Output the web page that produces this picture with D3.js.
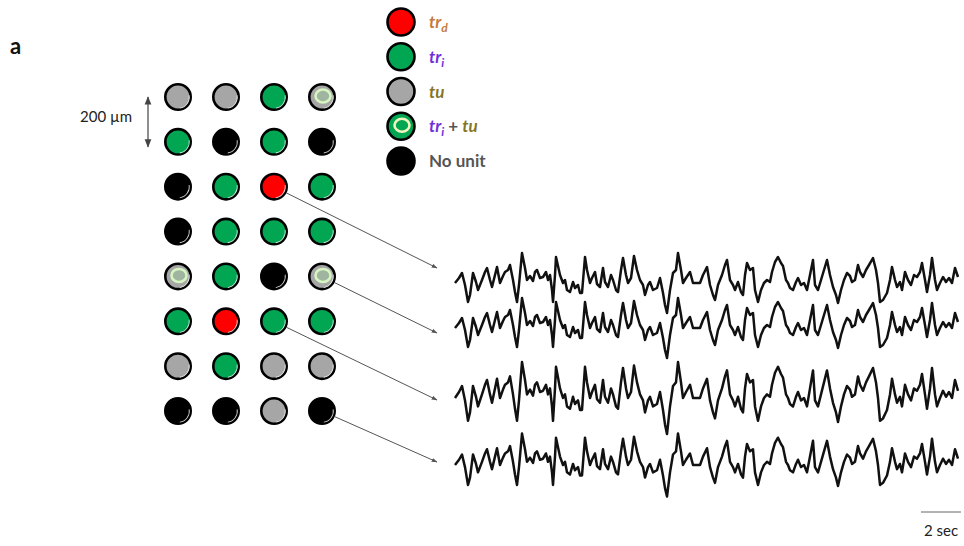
<!DOCTYPE html>
<html><head><meta charset="utf-8">
<script src="https://cdn.jsdelivr.net/npm/d3@7"></script>
<style>
html,body{margin:0;padding:0;background:#fff;}
svg{display:block;font-family:Lato,"Open Sans",sans-serif;}
</style></head>
<body><svg id="chart" width="964" height="546"></svg>
<script>
// ---- data ----
const unitTypes = ["trd", "tri", "tu", "tritu", "none"];
const legendLabels = ["tr_d", "tr_i", "tu", "tr_i + tu", "No unit"];
// electrode array, 8 rows x 4 columns
const electrodeGrid = [
  ["tu",    "tu",   "tri",  "tritu"],
  ["tri",   "none", "tri",  "none"],
  ["none",  "tri",  "trd",  "tri"],
  ["none",  "tri",  "tri",  "tri"],
  ["tritu", "tri",  "none", "tritu"],
  ["tri",   "trd",  "tri",  "tri"],
  ["tu",    "tri",  "tu",   "tu"],
  ["none",  "none", "tu",   "none"]
];
// electrodes whose traces are shown [row, col]
const tracedElectrodes = [[2, 2], [4, 3], [5, 2], [7, 3]];
const traceGain = [1, 1, 1.2, 1.05];
// LFP trace (time in s, amplitude in µV)
const timeS = [0.10,0.30,0.45,0.60,0.75,0.85,1.00,1.15,1.25,1.45,1.60,1.70,1.85,1.95,2.10,2.20,2.35,2.50,2.60,2.75,2.85,3.00,3.10,3.20,3.30,3.45,3.60,3.70,3.85,4.00,4.10,4.20,4.35,4.50,4.65,4.75,4.85,4.95,5.00,5.10,5.15,5.25,5.35,5.50,5.60,5.70,5.85,6.00,6.10,6.25,6.35,6.45,6.60,6.70,6.85,6.95,7.10,7.20,7.35,7.50,7.60,7.75,7.90,8.00,8.15,8.25,8.40,8.50,8.65,8.75,8.90,9.05,9.20,9.35,9.50,9.60,9.75,9.85,10.00,10.20,10.35,10.50,10.60,10.70,10.85,11.00,11.15,11.25,11.40,11.50,11.65,11.85,12.00,12.20,12.35,12.50,12.70,12.85,13.00,13.10,13.25,13.45,13.60,13.70,13.85,14.00,14.10,14.25,14.40,14.50,14.60,14.70,14.85,15.00,15.10,15.25,15.40,15.55,15.70,15.85,15.95,16.10,16.25,16.40,16.50,16.65,16.75,16.85,17.00,17.15,17.25,17.40,17.55,17.70,17.85,18.00,18.10,18.25,18.40,18.55,18.70,18.85,19.00,19.15,19.25,19.40,19.55,19.70,19.85,19.95,20.10,20.25,20.35,20.50,20.65,20.80,21.00,21.15,21.25,21.35,21.50,21.70,21.85,21.95,22.10,22.20,22.35,22.45,22.60,22.75,22.90,23.05,23.20,23.35,23.45,23.60,23.70,23.85,23.95,24.10,24.20,24.35,24.50,24.65,24.80,24.95,25.10,25.25];
const lfpUV = [0,50,100,-20,-190,-120,100,10,-70,30,110,150,30,-40,80,160,0,70,110,130,180,30,-90,-190,-20,300,150,30,70,20,110,130,50,60,110,30,80,-70,-190,80,260,170,80,0,30,-70,-90,10,-50,-20,-100,-100,260,130,0,50,110,-10,-40,150,10,-40,80,30,-70,-90,130,250,80,0,50,270,130,30,-20,-120,-20,10,-70,-50,50,-100,-220,-300,-70,100,130,300,130,0,50,110,0,0,0,80,160,-20,-120,-170,-20,80,180,230,30,-20,-70,10,-90,-120,80,200,130,150,-70,-190,-70,0,30,10,110,210,260,200,170,30,0,-50,-70,10,50,-20,0,-70,80,230,-20,-70,30,130,230,80,-40,-120,-200,-70,30,100,70,10,30,180,110,60,130,180,250,130,0,-190,-170,-100,30,160,30,-40,10,-70,110,30,-20,80,60,110,200,30,-90,80,250,30,-70,0,60,10,50,0,150,60];
const scaleBarSec = 2;

// ---- styles ----
const fillColor = {trd:"#ff0000", tri:"#00a651", tu:"#a6a6a6", tritu:"#00a651", none:"#000000"};
const svg = d3.select("#chart");

// panel label
svg.append("text").attr("x", 10).attr("y", 54).attr("font-size", 22).attr("font-weight", 700)
  .attr("fill", "#111").text("a");

// grid scales
const colX = d3.scalePoint().domain(d3.range(4)).range([178, 322]);
const rowY = d3.scalePoint().domain(d3.range(8)).range([97, 411]);

function drawUnit(g, type, cx, cy, legend) {
  const R = legend ? 13.5 : 12.7;
  const base = type === "tritu" && !legend ? "#a6a6a6" : fillColor[type];
  g.append("circle").attr("cx", cx).attr("cy", cy).attr("r", R)
    .attr("fill", base).attr("stroke", "#000").attr("stroke-width", 2.6);
  if (type === "tritu") {
    g.append("ellipse").attr("cx", cx + 1).attr("cy", cy - 1).attr("rx", 7.5).attr("ry", 6.5)
      .attr("fill", legend ? "#00a651" : "#9fb59f").attr("stroke", legend ? "#f0f5c0" : "#d6f5c0").attr("stroke-width", 2.6);
  }
  if (!legend) {
    const arc = d3.arc().innerRadius(R - 1.8).outerRadius(R - 1.0).startAngle(Math.PI * 0.45).endAngle(Math.PI * 0.95);
    g.append("path").attr("d", arc()).attr("transform", `translate(${cx},${cy})`)
      .attr("fill", "#fff").attr("opacity", 0.85);
  }
}
const R = 12.7;

const gridG = svg.append("g");
electrodeGrid.forEach((row, r) => row.forEach((t, c) => drawUnit(gridG, t, colX(c), rowY(r), false)));

// 200 µm marker
svg.append("defs").html(`
<marker id="ah" viewBox="0 0 10 10" refX="9" refY="5" markerWidth="7" markerHeight="7" orient="auto-start-reverse">
<path d="M0,1 L10,5 L0,9 z" fill="#444"/></marker>
<marker id="ah2" viewBox="0 0 10 10" refX="9" refY="5" markerWidth="6" markerHeight="6" orient="auto">
<path d="M0,1.5 L10,5 L0,8.5 z" fill="#555"/></marker>`);
svg.append("line").attr("x1", 148).attr("x2", 148).attr("y1", rowY(0)).attr("y2", rowY(1) + 5)
  .attr("stroke", "#444").attr("stroke-width", 1.2)
  .attr("marker-start", "url(#ah)").attr("marker-end", "url(#ah)");
svg.append("text").attr("x", 80).attr("y", 122).attr("font-size", 15).attr("fill", "#222").text("200 µm");

// legend
const legY = d3.scalePoint().domain(unitTypes).range([22, 161]);
const legG = svg.append("g");
unitTypes.forEach(t => drawUnit(legG, t, 401, legY(t), true));
const cTrd = "#c47a3a", cTri = "#7030d8", cTu = "#857526", cGray = "#555";
function legText(t) {
  return legG.append("text").attr("x", 429).attr("y", legY(t) + 6).attr("font-size", 17)
    .attr("font-weight", 700).attr("font-style", "italic");
}
let tx = legText("trd"); tx.attr("fill", cTrd).text("tr");
tx.append("tspan").attr("font-size", 12).attr("dy", 4).text("d");
tx = legText("tri"); tx.attr("fill", cTri).text("tr");
tx.append("tspan").attr("font-size", 12).attr("dy", 4).text("i");
tx = legText("tu"); tx.attr("fill", cTu).text("tu");
tx = legText("tritu"); tx.attr("fill", cTri).text("tr");
tx.append("tspan").attr("font-size", 12).attr("dy", 4).text("i");
tx.append("tspan").attr("font-style", "normal").attr("fill", cGray).attr("dy", -4).text(" + ");
tx.append("tspan").attr("fill", cTu).text("tu");
tx = legText("none"); tx.attr("fill", cGray).attr("font-style", "normal").text("No unit");

// traces
const tx0 = 453;
const xT = d3.scaleLinear().domain([0, 25.3]).range([tx0, tx0 + 25.3 * 20]);
const baselines = [283, 328, 398, 465];
const linkEndY = [268, 333, 400, 462];
baselines.forEach((b, i) => {
  const yS = d3.scaleLinear().domain([-1000, 1000]).range([b + 100 * traceGain[i], b - 100 * traceGain[i]]);
  const line = d3.line().x((d, k) => xT(timeS[k])).y(d => yS(d)).curve(d3.curveLinear);
  svg.append("path").attr("d", line(lfpUV)).attr("fill", "none")
    .attr("stroke", "#111").attr("stroke-width", 2.5).attr("stroke-linejoin", "round");
  const [r, c] = tracedElectrodes[i];
  const cx = colX(c), cy = rowY(r), ex = 437, ey = linkEndY[i];
  const dx = ex - cx, dy = ey - cy, L = Math.hypot(dx, dy);
  svg.append("line").attr("x1", cx + dx / L * (R + 1)).attr("y1", cy + dy / L * (R + 1))
    .attr("x2", ex).attr("y2", ey).attr("stroke", "#555").attr("stroke-width", 1)
    .attr("marker-end", "url(#ah2)");
});

// scale bar
svg.append("line").attr("x1", 921).attr("x2", 921 + (xT(scaleBarSec) - xT(0))).attr("y1", 512).attr("y2", 512)
  .attr("stroke", "#666").attr("stroke-width", 1);
svg.append("text").attr("x", 941).attr("y", 536).attr("text-anchor", "middle").attr("font-size", 15)
  .attr("fill", "#222").text("2 sec");
</script></body></html>
